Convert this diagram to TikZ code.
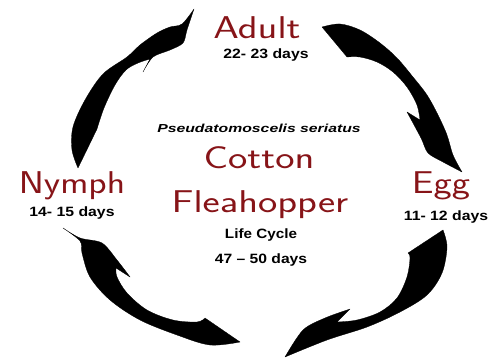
\documentclass[tikz,border=0pt]{standalone}
\usepackage{fontspec}
\setmainfont{Liberation Sans}
\definecolor{fhred}{RGB}{135,20,24}
\tikzset{
  redlbl/.style={text=fhred, font=\sffamily\fontsize{31.5}{32}\selectfont, anchor=base, inner sep=0pt},
  daylbl/.style={text=black, font=\bfseries\fontsize{13.5}{14}\selectfont, anchor=base, inner sep=0pt},
  latin/.style={text=black, font=\bfseries\itshape\fontsize{11.6}{12}\selectfont, anchor=base, inner sep=0pt},
  swoosh/.style={fill=black, draw=black, line width=0.3pt, line join=round}
}
\begin{document}
\begin{tikzpicture}[x=1pt, y=-1pt]
\useasboundingbox (0,0) rectangle (490,358);
% texts
\node[redlbl] (adult) at (257,39) {\scalebox{1.3}[1]{Adult}};
\node[daylbl] (adultdays) at (266,59) {\scalebox{1.17}[1]{22- 23 days}};
\node[latin] (latin) at (259,133) {\scalebox{1.36}[1]{Pseudatomoscelis seriatus}};
\node[redlbl] (cotton) at (259,169) {\scalebox{1.3}[1]{Cotton}};
\node[redlbl] (flea) at (260,213) {\scalebox{1.3}[1]{Fleahopper}};
\node[daylbl] (life) at (261,239) {\scalebox{1.13}[1]{Life Cycle}};
\node[daylbl] (total) at (261,263) {\scalebox{1.16}[1]{47 -- 50 days}};
\node[redlbl] (nymph) at (72,194) {\scalebox{1.2}[1]{Nymph}};
\node[daylbl] (nymphdays) at (72,217) {\scalebox{1.17}[1]{14- 15 days}};
\node[redlbl] (egg) at (441,194) {\scalebox{1.23}[1]{Egg}};
\node[daylbl] (eggdays) at (446,221) {\scalebox{1.17}[1]{11- 12 days}};
% top-left arrow (Nymph -> Adult)
\path[swoosh] plot[smooth, tension=0.55] coordinates {(78,168) (72,150) (73,127) (85,100) (103,74) (127,57) (140,45) (157,33) (170,27) (182,24) (194,9)}
  -- plot[smooth, tension=0.5] coordinates {(194,9) (187,30) (183,43) (170,50) (153,57) (143,72)}
  -- (150,59)
  -- plot[smooth, tension=0.55] coordinates {(150,59) (138,63) (126,70) (115,85) (104,108) (97,129)}
  -- cycle;
% top-right arrow (Adult -> Egg)
\path[swoosh] plot[smooth, tension=0.55] coordinates {(322,27) (340,24) (360,30) (380,43) (397,58) (413,77) (427,95) (438,115) (447,135) (453,155) (462,172)}
  -- plot[smooth, tension=0.5] coordinates {(462,172) (443,162) (428,153) (421,138) (407,112)}
  -- (420,120)
  -- plot[smooth, tension=0.55] coordinates {(420,120) (417,105) (407,87) (393,72) (377,62) (360,57) (347,57)}
  -- cycle;
% bottom-right arrow (Egg -> bottom)
\path[swoosh] plot[smooth, tension=0.55] coordinates {(443,230) (447,247) (442,273) (427,295) (400,312) (367,327) (327,340) (285,357)}
  -- plot[smooth, tension=0.5] coordinates {(285,357) (303,330) (325,318) (350,309)}
  -- (337,322)
  -- plot[smooth, tension=0.55] coordinates {(337,322) (357,320) (380,312) (397,298) (407,277) (410,258) (408,253)}
  -- cycle;
% bottom-left arrow (bottom -> Nymph)
\path[swoosh] plot[smooth, tension=0.55] coordinates {(240,342) (210,345) (177,335) (140,320) (110,300) (90,277) (82,253) (80,241) (63,228)}
  -- plot[smooth, tension=0.5] coordinates {(63,228) (80,238) (102,243) (117,260) (130,277)}
  -- (116,268)
  -- plot[smooth, tension=0.55] coordinates {(116,268) (117,277) (127,293) (147,310) (173,320) (197,322) (205,318)}
  -- cycle;
\end{tikzpicture}
\end{document}
